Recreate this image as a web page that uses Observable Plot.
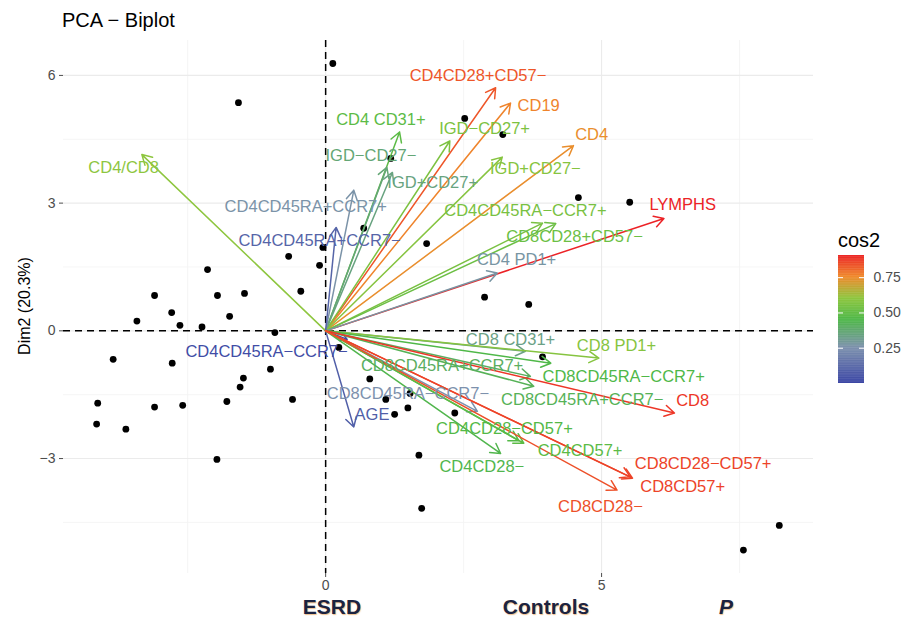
<!DOCTYPE html>
<html>
<head>
<meta charset="utf-8">
<script src="https://cdn.jsdelivr.net/npm/d3@7"></script>
<script src="https://cdn.jsdelivr.net/npm/@observablehq/plot@0.6"></script>
<style>
  html, body { margin: 0; padding: 0; background: #fff; }
  #wrap { position: relative; width: 901px; height: 619px; font-family: "Liberation Sans", Arial, Helvetica, sans-serif; }
  #wrap svg { position: absolute; }
  .lbl { position: absolute; white-space: nowrap; line-height: 1; }
</style>
</head>
<body>
<div id="wrap"></div>
<script>
// ---- Individuals (PCA scores, Dim1 / Dim2) ----
const indX = [0.13, -1.58, 2.52, 3.21, 1.18, 0.69, 1.83, -0.05, -0.67, -0.11,
  -2.14, -0.45, -3.10, -1.96, -1.47, 4.58, 5.51, 2.88, 3.68, -3.42,
  -2.79, -2.64, -2.24, -1.74, -0.92, -3.85, -2.78, -1.00, -1.49, -1.55,
  -4.13, -3.10, -2.59, -1.79, -0.60, -4.15, -3.62, -1.97, 0.24, 0.80,
  1.09, 1.53, 1.25, 1.49, 1.69, 1.74, 3.93, 2.34, 7.57, 8.22];
const indY = [6.28, 5.36, 4.99, 4.61, 4.05, 2.41, 2.05, 1.96, 1.75, 1.54,
  1.44, 0.93, 0.83, 0.83, 0.88, 3.13, 3.02, 0.79, 0.62, 0.23,
  0.43, 0.13, 0.09, 0.34, -0.04, -0.67, -0.76, -0.90, -1.11, -1.32,
  -1.70, -1.79, -1.75, -1.66, -1.61, -2.19, -2.31, -3.02, -0.39, -1.13,
  -1.61, -1.47, -1.96, -1.81, -2.92, -4.17, -0.61, -1.93, -5.15, -4.57];

// ---- Variables (arrow tips, label positions, cos2) ----
const varNames = ["CD4/CD8", "CD4CD28+CD57−", "CD19", "CD4", "LYMPHS", "CD4 CD31+", "IGD−CD27+",
  "IGD−CD27−", "IGD+CD27+", "IGD+CD27−", "CD4CD45RA−CCR7+", "CD8CD28+CD57−", "CD4 PD1+",
  "CD4CD45RA+CCR7+", "CD4CD45RA+CCR7−", "CD4CD45RA−CCR7−", "AGE", "CD8 CD31+", "CD8 PD1+",
  "CD8CD45RA−CCR7+", "CD8CD45RA+CCR7+", "CD8CD45RA+CCR7−", "CD8CD45RA−CCR7−", "CD8",
  "CD4CD28−CD57+", "CD4CD57+", "CD4CD28−", "CD8CD28−CD57+", "CD8CD57+", "CD8CD28−"];
const varX = [-3.33, 3.08, 3.35, 4.49, 6.13, 1.34, 2.25, 1.11, 1.21, 3.20, 3.93, 4.17, 3.11,
  0.51, 0.19, 0.39, 0.51, 3.62, 4.95, 4.08, 3.71, 3.77, 2.75, 6.32, 3.50, 3.59, 3.17, 5.56, 5.52, 5.28];
const varY = [4.14, 5.71, 5.35, 4.35, 2.64, 4.67, 4.46, 3.84, 3.72, 4.08, 2.53, 2.52, 1.36,
  3.30, 2.43, -0.20, -2.26, -0.48, -0.64, -0.76, -1.07, -1.30, -1.89, -1.93, -2.58, -2.64, -2.88, -3.46, -3.43, -3.74];
const labX = [-3.66, 2.76, 3.86, 4.82, 6.47, 1.00, 2.88, 0.82, 1.94, 3.80, 3.62, 4.51, 3.46,
  -0.36, -0.11, -1.07, 0.84, 3.35, 5.27, 5.40, 2.11, 4.65, 1.49, 6.65, 3.24, 4.61, 2.83, 6.84, 6.47, 4.98];
const labY = [3.84, 6.00, 5.28, 4.61, 2.97, 4.96, 4.75, 4.12, 3.48, 3.81, 2.81, 2.20, 1.68,
  2.92, 2.11, -0.50, -1.98, -0.22, -0.36, -1.07, -0.81, -1.61, -1.47, -1.65, -2.31, -2.81, -3.20, -3.11, -3.65, -4.14];
const cos2 = [0.60, 0.83, 0.76, 0.74, 0.91, 0.48, 0.56, 0.36, 0.34, 0.58, 0.55, 0.52, 0.27,
  0.26, 0.10, 0.02, 0.08, 0.33, 0.58, 0.45, 0.40, 0.42, 0.25, 0.88, 0.46, 0.48, 0.44, 0.86, 0.86, 0.84];

// ---- Axes / legend ----
const xTicks = [0, 5];
const yTicks = [-3, 0, 3, 6];
const xMinor = [-2.5, 2.5, 7.5];
const yMinor = [-4.5, -1.5, 1.5, 4.5];
const legendTicks = [0.25, 0.50, 0.75];
const cosStops = [0.0, 0.25, 0.45, 0.60, 0.75, 0.91];
const cosColors = ["#3c47a5", "#7d91ad", "#4fb848", "#8ec63f", "#ef8a2c", "#ec2226"];
const cosDomain = [0, 0.91];
const groupLabels = ["ESRD", "Controls", "P"];

const inds = indX.map((x, i) => ({x, y: indY[i]}));
const vars = varNames.map((name, i) => ({name, x: varX[i], y: varY[i], lx: labX[i], ly: labY[i], cos2: cos2[i]}));

const stopScale = d3.scaleLinear().domain(cosStops).range(cosColors).interpolate(d3.interpolateRgb).clamp(true);
const interp = (t) => stopScale(cosDomain[0] + t * (cosDomain[1] - cosDomain[0]));
const colorOpts = {type: "linear", domain: cosDomain, interpolate: interp};

const font = '"Liberation Sans", Arial, Helvetica, sans-serif';
const wrap = document.getElementById("wrap");

const main = Plot.plot({
  width: 901, height: 619,
  marginLeft: 63, marginRight: 88, marginTop: 40, marginBottom: 46,
  x: {domain: [-4.75, 8.84]},
  y: {domain: [-5.70, 6.82]},
  color: colorOpts,
  style: {fontFamily: font, background: "transparent", overflow: "visible"},
  marks: [
    Plot.ruleX(xMinor, {stroke: "#f2f2f2", strokeWidth: 0.8}),
    Plot.ruleY(yMinor, {stroke: "#f2f2f2", strokeWidth: 0.8}),
    Plot.ruleX(xTicks, {stroke: "#ebebeb", strokeWidth: 1.1}),
    Plot.ruleY(yTicks, {stroke: "#ebebeb", strokeWidth: 1.1}),
    Plot.axisX({ticks: xTicks, tickSize: 4, tickPadding: 3, label: null, fontSize: 14, color: "#4d4d4d"}),
    Plot.axisY({ticks: yTicks, tickSize: 4, tickPadding: 4, label: null, fontSize: 14, color: "#4d4d4d", tickFormat: d => String(d).replace("-", "−")}),
    Plot.ruleX([0], {stroke: "#000", strokeWidth: 1.5, strokeDasharray: "7,5"}),
    Plot.ruleY([0], {stroke: "#000", strokeWidth: 1.5, strokeDasharray: "7,5"}),
    Plot.dot(inds, {x: "x", y: "y", r: 3.4, fill: "#000", stroke: "none"}),
    Plot.arrow(vars, {x1: () => 0, y1: () => 0, x2: "x", y2: "y", stroke: "cos2", strokeWidth: 1.5, headLength: 11, headAngle: 60}),
    Plot.text(vars, {x: "lx", y: "ly", text: "name", fill: "cos2", fontSize: 16.5, fontFamily: font})
  ]
});
main.style.left = "0px"; main.style.top = "0px";
wrap.appendChild(main);

// legend colour bar
const step = 0.005;
const steps = d3.range(0, 0.907, step);
const legend = Plot.plot({
  width: 63, height: 128,
  marginLeft: 0, marginRight: 0, marginTop: 0, marginBottom: 0,
  x: {type: "identity", axis: null},
  y: {domain: [0, 0.907], axis: null},
  color: colorOpts,
  style: {fontFamily: font, background: "transparent", overflow: "visible"},
  marks: [
    Plot.rect(steps, {x1: () => 0, x2: () => 26, y1: d => d, y2: d => Math.min(0.907, d + step * 1.6), fill: d => d}),
    Plot.ruleY(legendTicks, {x1: () => 0, x2: () => 5, stroke: "#fff", strokeWidth: 1}),
    Plot.ruleY(legendTicks, {x1: () => 21, x2: () => 26, stroke: "#fff", strokeWidth: 1}),
    Plot.text(legendTicks, {x: () => 35, y: d => d, text: d => d.toFixed(2), textAnchor: "start", fontSize: 14, fill: "#4d4d4d"})
  ]
});
legend.style.left = "838px"; legend.style.top = "255px";
wrap.appendChild(legend);

function addLabel(text, css) {
  const d = document.createElement("div");
  d.className = "lbl";
  d.textContent = text;
  Object.assign(d.style, css);
  wrap.appendChild(d);
  return d;
}
addLabel("PCA − Biplot", {left: "62px", top: "10px", fontSize: "20px", color: "#000"});
addLabel("cos2", {left: "838px", top: "230px", fontSize: "20px", color: "#000"});
addLabel("Dim2 (20.3%)", {left: "25px", top: "306px", fontSize: "16px", color: "#000", transform: "translate(-50%,-50%) rotate(-90deg)"});
const gx = [332, 546, 726];
groupLabels.forEach((g, i) => {
  addLabel(g, {left: gx[i] + "px", top: "598px", fontSize: "21px", lineHeight: "0.85", fontWeight: "bold",
    fontStyle: g === "P" ? "italic" : "normal", color: "#1c2340",
    transform: "translateX(-50%)", textShadow: "0.6px 0.6px 1px rgba(225,140,50,0.55)"});
});
</script>
</body>
</html>
